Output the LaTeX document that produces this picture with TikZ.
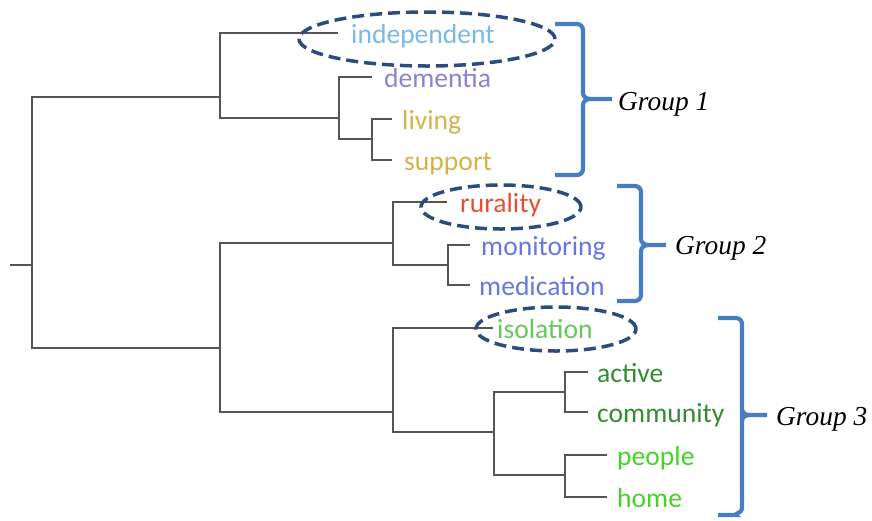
\documentclass[tikz,border=0pt]{standalone}
\usepackage{fontspec}
\usetikzlibrary{positioning}
\newfontfamily\wordfont{Carlito}
\newfontfamily\groupfont{Liberation Serif}

\definecolor{treegray}{RGB}{85,85,85}
\definecolor{ringblue}{RGB}{45,75,125}
\definecolor{brakblue}{RGB}{70,125,195}
\definecolor{cIndep}{RGB}{120,185,230}
\definecolor{cDem}{RGB}{140,130,210}
\definecolor{cGold}{RGB}{210,180,70}
\definecolor{cRural}{RGB}{230,80,50}
\definecolor{cMed}{RGB}{100,120,225}
\definecolor{cIso}{RGB}{100,200,90}
\definecolor{cAct}{RGB}{50,140,50}
\definecolor{cHome}{RGB}{70,210,40}

\tikzset{
	branch/.style={line width=2.6pt,treegray},
	word/.style={inner sep=0pt,text height=20pt,text depth=0pt,font=\wordfont\fontsize{27.6}{30}\selectfont},
	ring/.style={line width=3.5pt,ringblue,dash pattern=on 12pt off 6pt},
	brak/.style={line width=4.2pt,brakblue},
	grp/.style={inner sep=0pt,font=\groupfont\itshape\fontsize{27.4}{30}\selectfont}
}

\begin{document}
\begin{tikzpicture}[x=1pt,y=-1pt]
	\useasboundingbox (0,0) rectangle (872,520);
	
	% leaf ends
	\coordinate (e1)  at (338,33);
	\coordinate (e2)  at (372,77);
	\coordinate (e3)  at (392,119);
	\coordinate (e4)  at (392,160);
	\coordinate (e5)  at (447,202);
	\coordinate (e6)  at (470,245);
	\coordinate (e7)  at (470,285);
	\coordinate (e8)  at (493,328);
	\coordinate (e9)  at (588,372);
	\coordinate (e10) at (588,412);
	\coordinate (e11) at (607,455);
	\coordinate (e12) at (607,497);
	% merge points
	\coordinate (k0)  at (32,265);
	\coordinate (k1)  at (372,139);
	\coordinate (k2)  at (339,118);
	\coordinate (k3)  at (220,97);
	\coordinate (k4)  at (448,265);
	\coordinate (k5)  at (393,243);
	\coordinate (k6)  at (565,392);
	\coordinate (k7)  at (565,475);
	\coordinate (k8)  at (494,432);
	\coordinate (k9)  at (393,412);
	\coordinate (k10) at (220,348);
	\coordinate (stem) at (10,265);
	
	\draw[branch] (e3) -| (k1) |- (e4);
	\draw[branch] (e2) -| (k2) |- (k1);
	\draw[branch] (e1) -| (k3) |- (k2);
	\draw[branch] (e6) -| (k4) |- (e7);
	\draw[branch] (e5) -| (k5) |- (k4);
	\draw[branch] (e9) -| (k6) |- (e10);
	\draw[branch] (e11) -| (k7) |- (e12);
	\draw[branch] (k6) -| (k8) |- (k7);
	\draw[branch] (e8) -| (k9) |- (k8);
	\draw[branch] (k5) -| (k10) |- (k9);
	\draw[branch] (k3) -| (k0) |- (k10);
	\draw[branch] (stem) -- (k0);
	
	\node[word,text=cIndep,right=13pt of e1] (indep) {independent};
	\node[word,text=cDem,right=12pt of e2] (dem) {dementia};
	\node[word,text=cGold,right=10pt of e3] (living) {living};
	\node[word,text=cGold,right=12pt of e4] (support) {support};
	\node[word,text=cRural,right=13pt of e5] (rural) {rurality};
	\node[word,text=cMed,right=11pt of e6] (monit) {monitoring};
	\node[word,text=cMed,right=9pt of e7] (medic) {medication};
	\node[word,text=cIso,right=4pt of e8] (isol) {isolation};
	\node[word,text=cAct,right=9pt of e9] (active) {active};
	\node[word,text=cAct,right=9pt of e10] (commun) {community};
	\node[word,text=cHome,right=10pt of e11] (people) {people};
	\node[word,text=cHome,right=10pt of e12] (home) {home};
	
	% dashed rings
	\draw[ring] (427,39) ellipse [x radius=128pt,y radius=27pt];
	\draw[ring] (501,207) ellipse [x radius=80pt,y radius=22pt];
	\draw[ring] (556,329) ellipse [x radius=80pt,y radius=22pt];
	
	% group brackets
	\coordinate (t1) at (612,99);
	\coordinate (t2) at (666,245);
	\coordinate (t3) at (767,415);
	\draw[brak] (555,24) -- (577,24) to[out=0,in=90] (583,30) -- (583,93)
		to[out=-90,in=180] (590,99) -- (t1);
	\draw[brak] (590,99) to[out=180,in=90] (583,105) -- (583,169)
		to[out=-90,in=0] (577,175) -- (555,175);
	\draw[brak] (617,186) -- (635,186) to[out=0,in=90] (641,192) -- (641,239)
		to[out=-90,in=180] (648,245) -- (t2);
	\draw[brak] (648,245) to[out=180,in=90] (641,251) -- (641,295)
		to[out=-90,in=0] (635,301) -- (617,301);
	\draw[brak] (718,318) -- (736,318) to[out=0,in=90] (742,324) -- (742,509)
		to[out=-90,in=180] (736,515) -- (718,515);
	\draw[brak] (742,409) to[out=-90,in=180] (749,415) -- (t3);
	\draw[brak] (749,415) to[out=180,in=90] (742,421);
	
	\node[grp,right=6pt of t1,yshift=-5pt] (g1) {Group 1};
	\node[grp,right=9pt of t2,yshift=-3pt] (g2) {Group 2};
	\node[grp,right=9pt of t3,yshift=-4pt] (g3) {Group 3};
\end{tikzpicture}
\end{document}
